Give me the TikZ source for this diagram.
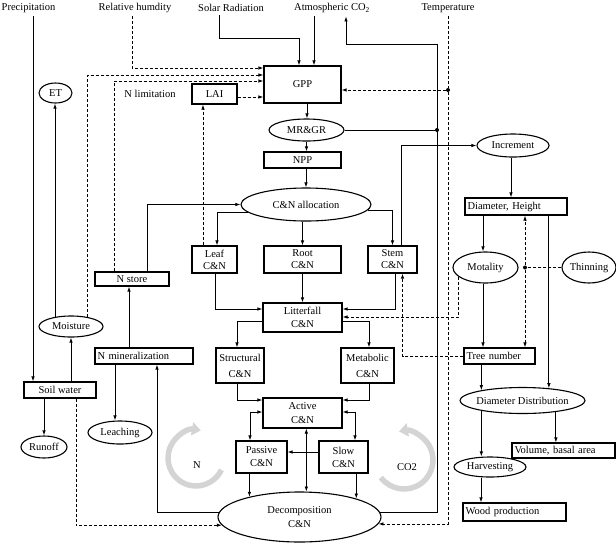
\documentclass[tikz,border=0pt]{standalone}
\usepackage{fontspec}
\setmainfont{Liberation Serif}
\usetikzlibrary{shapes.geometric,arrows.meta}

\begin{document}
\begin{tikzpicture}[x=1pt,y=-1pt,
    box/.style={draw,line width=1.1pt,inner sep=0pt,align=center},
    lbox/.style={draw,line width=1.1pt,inner xsep=2.5pt,inner ysep=0pt,align=left},
    ell/.style={draw,ellipse,line width=1.1pt,inner sep=0pt},
    sz/.style 2 args={minimum width=#1pt,minimum height=#2pt},
    conn/.style={line width=0.8pt},
    arr/.style={conn,-{Latex[length=5pt,width=3.5pt]}},
    biarr/.style={conn,{Latex[length=5pt,width=3.5pt]}-{Latex[length=5pt,width=3.5pt]}},
    dline/.style={conn,dash pattern=on 3pt off 2pt},
    darr/.style={arr,dash pattern=on 3pt off 2pt},
    dot/.style={circle,fill,inner sep=0pt,minimum size=4pt},
    cyc/.style={line width=5.5pt,black!17,-{Triangle[length=9pt,width=13pt]}}]
            \useasboundingbox (0,0) rectangle (616,542);
            {\fontsize{10.5}{13}\selectfont

            % Marking the driver labels
            \node (prec) at (28.5,8) {Precipitation};
            \node (humid) at (135,8) {Relative humdity};
            \node (solar) at (231,8) {Solar Radiation};
            \node (co2) at (332,8) {Atmospheric CO\textsubscript{2}};
            \node (temp) at (448,8) {Temperature};

            % Marking the water part
            \node[box,sz={72}{16}] (soil) at (60,390) {Soil water};
            \node[ell,sz={33}{20},label=center:ET] (et) at (55.5,93) {};
            \node[ell,sz={64}{21},label=center:Moisture] (moist) at (71,326.5) {};
            \node[ell,sz={46}{22},label=center:Runoff] (runoff) at (44,447) {};

            % Marking the nitrogen part
            \node (nlim) at (150,94) {N limitation};
            \node[box,sz={45}{20}] (lai) at (214.5,94) {LAI};
            \node[box,sz={74}{14}] (nstore) at (132,279) {N store};
            \node[lbox,sz={98}{16},text width=93pt] (nmin) at (144,356) {N mineralization};
            \node[ell,sz={64}{23},label=center:Leaching] (leach) at (120,432.5) {};

            % Marking the carbon part
            \node[box,sz={77}{37}] (gpp) at (302.5,84.5) {GPP};
            \node[ell,sz={75}{22},label=center:MR\&GR] (mrgr) at (306.5,130) {};
            \node[box,sz={77}{16}] (npp) at (302.5,160) {NPP};
            \node[ell,sz={130}{33},label=center:C\&N allocation] (alloc) at (306,204.5) {};
            \node[box,sz={45}{27}] (leaf) at (214.5,259.5) {Leaf\\[-1pt]C\&N};
            \node[box,sz={77}{27}] (root) at (302.5,259.5) {Root\\[-1pt]C\&N};
            \node[box,sz={49}{27}] (stem) at (392.5,259.5) {Stem\\[-1pt]C\&N};
            \node[box,sz={79}{29}] (litter) at (302.5,317.5) {Litterfall\\C\&N};
            \node[box,sz={48}{35}] (struct) at (240,365.5) {Structural\\[3pt]C\&N};
            \node[box,sz={53}{35}] (metab) at (367.5,365.5) {Metabolic\\[3pt]C\&N};
            \node[box,sz={79}{30}] (active) at (302.5,413) {Active\\[1pt]C\&N};
            \node[box,sz={51}{32}] (passive) at (261.5,457) {Passive\\C\&N};
            \node[box,sz={49}{32}] (slow) at (343.5,457) {Slow\\C\&N};
            \node[ell,sz={163}{50},label={[align=center]center:Decomposition\\[1pt]C\&N}] (decomp) at (299.5,517) {};

            % Marking the stand part
            \node[ell,sz={72}{23},label=center:Increment] (incr) at (513,145.5) {};
            \node[lbox,sz={102}{17},text width=97pt] (diah) at (516,206.5) {Diameter, Height};
            \node[ell,sz={65}{31},label=center:Motality] (mort) at (485.5,267.5) {};
            \node[ell,sz={54}{31},label=center:Thinning] (thin) at (589,267.5) {};
            \node[lbox,sz={71}{16},text width=66pt] (treen) at (499.5,356) {Tree number};
            \node[ell,sz={125}{26},label=center:Diameter Distribution] (ddist) at (522.5,400.5) {};
            \node[lbox,sz={103}{15},text width=98pt] (vol) at (563.5,450.5) {Volume, basal area};
            \node[ell,sz={72}{20},label=center:Harvesting] (harv) at (490,467) {};
            \node[lbox,sz={103}{18},text width=98pt] (wood) at (514.5,512) {Wood production};

            % Marking junction dots
            \node[dot] (rdot) at (437,130) {};
            \node[dot] (tdot) at (448,90) {};
            \node[dot] (hdot) at ([xshift=9pt]diah.south |- thin.west) {};
            \coordinate (co2corner) at (437,44);

            % Drawing water flows
            \draw[arr] ([xshift=4.5pt]prec.south) -- ([xshift=4.5pt]prec.south |- soil.north);
            \draw[arr] ([xshift=11pt]soil.north) -- ([xshift=11pt]soil.north |- moist.south);
            \draw[arr] (moist.149) -- (moist.149 |- et.south);
            \draw[arr] (soil.south -| runoff.north) -- (runoff.north);
            \draw[darr] ([xshift=16pt]soil.south) |- (decomp.186);
            \draw[darr] (moist.30) |- ([yshift=9.5pt]gpp.west);

            % Drawing nitrogen flows
            \draw[arr] (decomp.177) -| ([xshift=13pt]nmin.south);
            \draw[arr] ([xshift=-15pt]nmin.north) -- ([xshift=-15pt]nmin.north |- nstore.south);
            \draw[arr] ([xshift=-29pt]nmin.south) -- ([xshift=-29pt]nmin.south |- leach.north);
            \draw[arr] ([xshift=15pt]nstore.north) |- (alloc.west);
            \draw[darr] ([xshift=-18pt]nstore.north) |- ([yshift=3.5pt]gpp.west);
            \draw[darr] ([yshift=-3pt]lai.east) -- ([yshift=-3pt]lai.east -| gpp.west);
            \draw[darr] ([xshift=-11.5pt]leaf.north) -- ([xshift=-11.5pt]leaf.north |- lai.south);

            % Drawing climate drivers
            \draw[darr] ([xshift=-3pt]humid.south) |- ([yshift=16.5pt]gpp.west);
            \draw[arr] ([xshift=-12pt]solar.south) |- ([xshift=-3.5pt,yshift=27pt]gpp.north) -- ([xshift=-3.5pt]gpp.north);
            \draw[arr] ([xshift=-18pt]co2.south) -- ([xshift=-18pt]co2.south |- gpp.north);
            \draw[arr] (decomp.3) -| (co2corner) -| ([xshift=14pt]co2.south);
            \draw[conn] (mrgr.east) -- (rdot);
            \draw[dline] (temp.south) -- (tdot);
            \draw[darr] (tdot) -- (tdot -| gpp.east);
            \draw[darr] (tdot) |- (decomp.-5);

            % Drawing carbon flows
            \draw[arr] ([xshift=4.5pt]gpp.south) -- ([xshift=4.5pt]gpp.south |- mrgr.north);
            \draw[arr] (mrgr.south) -- (mrgr.south |- npp.north);
            \draw[arr] (npp.south -| alloc.north) -- (alloc.north);
            \draw[arr] (alloc.188) -| ([xshift=2.5pt]leaf.north);
            \draw[arr] (alloc.south -| root.north) -- (root.north);
            \draw[arr] (alloc.-5) -| (stem.north);
            \draw[arr] ([xshift=0.5pt]leaf.south) |- ([yshift=8.5pt]litter.west);
            \draw[arr] (root.south) -- (litter.north);
            \draw[arr] ([xshift=2.5pt]stem.south) |- ([yshift=8.5pt]litter.east);
            \draw[arr] ([yshift=-3.5pt]litter.west) -| ([xshift=-3pt]struct.north);
            \draw[arr] ([yshift=-3.5pt]litter.east) -| ([xshift=1.5pt]metab.north);
            \draw[arr] ([xshift=-3pt]struct.south) |- ([yshift=13pt]active.west);
            \draw[arr] ([xshift=1.5pt]metab.south) |- ([yshift=13pt]active.east);
            \draw[biarr] ([yshift=1pt]active.west) -| ([xshift=-11.5pt]passive.north);
            \draw[biarr] ([yshift=1pt]active.east) -| ([xshift=11.5pt]slow.north);
            \draw[biarr] (decomp.75) -- (decomp.75 |- active.south);
            \draw[arr] ([yshift=5pt]slow.west) -- ([yshift=5pt]slow.west -| passive.east);
            \draw[arr] (passive.south -| decomp.158) -- (decomp.158);
            \draw[arr] (slow.south -| decomp.18) -- (decomp.18);

            % Drawing stand flows
            \draw[arr] ([xshift=8.5pt]stem.north) |- (incr.west);
            \draw[arr] ([xshift=-2pt]incr.south) -- ([xshift=-2pt]incr.south |- diah.north);
            \draw[arr] ([xshift=-33pt]diah.south) -- ([xshift=-33pt]diah.south |- mort.north);
            \draw[arr] (diah.south -| ddist.25) -- (ddist.25);
            \draw[dline] (thin.west) -- (hdot);
            \draw[darr] (hdot) -- (hdot |- diah.south);
            \draw[darr] (hdot) -- (hdot |- treen.north);
            \draw[arr] ([xshift=-2.5pt]mort.south) -- ([xshift=-2.5pt]mort.south |- treen.north);
            \draw[darr] (mort.199) |- ([yshift=0.5pt]litter.east);
            \draw[darr] (treen.west) -| ([xshift=10pt]stem.south);
            \draw[arr] (treen.south -| ddist.166) -- (ddist.166);
            \draw[arr] (ddist.-19) -- (ddist.-19 |- vol.north);
            \draw[arr] (ddist.194) -- (ddist.194 |- harv.north);
            \draw[arr] ([xshift=-9pt]harv.south) -- ([xshift=-9pt]harv.south |- wood.north);

            % Drawing the two cycles
            \draw[cyc] (196,458) ++(25:28) arc[start angle=25,end angle=280,radius=28];
            \node (ntext) at (197,465) {N};
            \draw[cyc] (404,460) ++(143:29) arc[start angle=143,end angle=-100,radius=29];
            \node (ctext) at (407,467) {CO2};
            }
\end{tikzpicture}
\end{document}
